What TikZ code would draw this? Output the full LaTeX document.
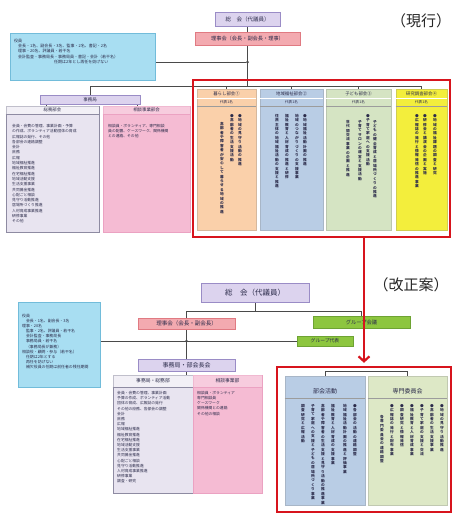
\documentclass[tikz,border=0pt]{standalone}
\usepackage{fontspec}
\setmainfont{Noto Sans CJK JP}
\usetikzlibrary{positioning, arrows.meta, backgrounds}
\XeTeXlinebreaklocale "ja"
\XeTeXlinebreakskip=0pt plus 1pt
\setlength{\parindent}{0pt}

\definecolor{lineGray}{HTML}{4A4A4A}
\definecolor{textGray}{HTML}{2B2B4A}
\definecolor{frameRed}{HTML}{D7141D}
\definecolor{topFill}{HTML}{DCD3EE}
\definecolor{topEdge}{HTML}{9A8CC6}
\definecolor{boardFill}{HTML}{F3AAB0}
\definecolor{boardEdge}{HTML}{E07A82}
\definecolor{infoFill}{HTML}{A8DEF2}
\definecolor{infoEdge}{HTML}{72BCDA}
\definecolor{listFill}{HTML}{E8E4F0}
\definecolor{listEdge}{HTML}{8E8BA2}
\definecolor{pinkFill}{HTML}{F5BBD3}
\definecolor{pinkEdge}{HTML}{EBA2C2}
\definecolor{lifeFill}{HTML}{FAD0AA}
\definecolor{localFill}{HTML}{B9CDE5}
\definecolor{childFill}{HTML}{D5E4C3}
\definecolor{studyFill}{HTML}{F3EE3C}
\definecolor{unitFill}{HTML}{DDE8C6}
\definecolor{groupFill}{HTML}{8DC63F}
\definecolor{groupEdge}{HTML}{6EA333}

\tikzset{
  conn/.style={draw=lineGray, line width=0.8pt},
  plainbox/.style={rectangle, inner sep=0pt, line width=0.6pt, text=textGray},
  topbox/.style={plainbox, fill=topFill, draw=topEdge},
  boardbox/.style={plainbox, fill=boardFill, draw=boardEdge},
  infobox/.style={plainbox, fill=infoFill, draw=infoEdge},
  listbox/.style={plainbox, fill=listFill, draw=listEdge},
  pinkbox/.style={plainbox, fill=pinkFill, draw=pinkEdge},
  groupbox/.style={plainbox, fill=groupFill, draw=groupEdge},
  colbox/.style={plainbox, fill=#1, draw=#1!70!gray},
  redframe/.style={rectangle, inner sep=0pt, draw=frameRed, line width=2.4pt},
  vtxt/.style={anchor=north, inner sep=0pt, text width=4.2pt, align=center, text=textGray, font=\fontsize{3.7}{4.4}\selectfont\bfseries},
  htxt/.style={anchor=north west, inner sep=0pt, align=left, text=textGray, font=\fontsize{3.8}{5.3}\selectfont},
  headtxt/.style={inner sep=0pt, text=textGray, font=\fontsize{4.4}{5}\selectfont},
  joint/.style={circle, fill=lineGray, inner sep=0pt, minimum size=3pt},
}

\begin{document}
\begin{tikzpicture}[x=1pt, y=-1pt]
\useasboundingbox (0,0) rectangle (454,515);

% current organisation
\node[topbox, minimum width=65pt, minimum height=14pt, font=\fontsize{5.5}{6}\selectfont] (assembly1) at (247.5,19) {総　会（代議員）};
\node[boardbox, minimum width=105pt, minimum height=13pt, font=\fontsize{5.2}{6}\selectfont] (board1) at (247.5,39) {理事会（会長・副会長・理事）};
\node[infobox, minimum width=145pt, minimum height=47pt] (officers1) at (82.5,56.5) {};
\node[htxt, font=\fontsize{4}{5.2}\selectfont] (officersText1) at (14,39) {役員\\
　会長・1名、副会長・3名、監事・2名、書記・2名\\
　理事・20名、評議員・若干名\\
　会計監査・事務局長・事務局員・書記・会計（若干名）\\
\hspace{40pt}任期は2年とし再任を妨げない};
\coordinate (hubLevel1) at (0,62);
\node[joint] (hub1) at (board1.south |- hubLevel1) {};
\coordinate (bus1) at (0,86);

\node[topbox, minimum width=100pt, minimum height=9pt, font=\fontsize{4.5}{5}\selectfont] (office1) at (90,99.5) {事務局};
\node[listbox, minimum width=93pt, minimum height=126pt, anchor=north] (general1) at (52.5,106) {};
\node[pinkbox, minimum width=87pt, minimum height=126pt, anchor=north] (consult1) at (146.5,106) {};
\fill[white, opacity=0.45] (general1.north west) rectangle ([yshift=-8pt]general1.north east);
\fill[white, opacity=0.25] (consult1.north west) rectangle ([yshift=-8pt]consult1.north east);
\draw[listEdge, line width=0.4pt] ([yshift=-8pt]general1.north west) -- ([yshift=-8pt]general1.north east);
\draw[pinkEdge, line width=0.4pt] ([yshift=-8pt]consult1.north west) -- ([yshift=-8pt]consult1.north east);
\node[headtxt] (generalHead1) at (52.5,110) {総務部会};
\node[headtxt] (consultHead1) at (146.5,110) {相談事業部会};
\node[htxt] (generalText1) at (12,124) {会員・会費の管理、事業計画・予算\\
の作成、ボランティア活動団体の育成\\
広報誌の発行、その他\\
各部会の連絡調整\\
会計\\
庶務\\
広報\\
地域福祉推進\\
福祉教育推進\\
在宅福祉推進\\
地域活動支援\\
生活支援事業\\
共同募金推進\\
心配ごと相談\\
見守り活動推進\\
居場所づくり推進\\
人材育成事業推進\\
研修事業\\
その他};
\node[htxt] (consultText1) at (108,124) {相談員・ボランティア、専門相談\\
員の配置、ケースワーク、関係機関\\
との連絡、その他};

\node[colbox=lifeFill, minimum width=59pt, minimum height=141pt, anchor=north] (colLife) at (226.5,89) {};
\node[colbox=localFill, minimum width=63pt, minimum height=141pt, anchor=north] (colLocal) at (291.5,89) {};
\node[colbox=childFill, minimum width=65pt, minimum height=141pt, anchor=north] (colChild) at (358.5,89) {};
\node[colbox=studyFill, minimum width=51pt, minimum height=141pt, anchor=north] (colStudy) at (421.5,89) {};
\foreach \c in {colLife,colLocal,colChild,colStudy} {
  \draw[white, line width=0.7pt] ([yshift=-9pt]\c.north west) -- ([yshift=-9pt]\c.north east);
  \draw[lineGray!55, line width=0.5pt] ([yshift=-17pt]\c.north west) -- ([yshift=-17pt]\c.north east);
}
\node[headtxt] (lifeHead) at (226.5,94) {暮らし部会①};
\node[headtxt] (localHead) at (291.5,94) {地域福祉部会②};
\node[headtxt] (childHead) at (358.5,94) {子ども部会③};
\node[headtxt] (studyHead) at (421.5,94) {研究調査部会④};
\node[headtxt, font=\fontsize{3.6}{4}\selectfont] (lifeSub) at (226.5,102) {代表1名};
\node[headtxt, font=\fontsize{3.6}{4}\selectfont] (localSub) at (291.5,102) {代表1名};
\node[headtxt, font=\fontsize{3.6}{4}\selectfont] (childSub) at (358.5,102) {代表1名};
\node[headtxt, font=\fontsize{3.6}{4}\selectfont] (studySub) at (421.5,102) {代表1名};

\node[vtxt] (life1) at (240,114) {●地域の見守り活動の推進};
\node[vtxt] (life2) at (232,114) {●高齢者の生活支援活動};
\node[vtxt] (life3) at (222,122) {高齢者や障害者が安心して暮らせる地域の推進};
\node[vtxt] (local1) at (305,114) {●地域福祉活動計画の推進};
\node[vtxt] (local2) at (297,114) {地域のつながりづくりの支援事業};
\node[vtxt] (local3) at (287,114) {福祉教育と人材育成の推進と研修};
\node[vtxt] (local4) at (277,114) {住民主体の地域福祉活動の支援と推進};
\node[vtxt] (child1) at (375,120) {子どもの健全育成と居場所づくりの推進};
\node[vtxt] (child2) at (368,114) {●子育て家庭への支援活動};
\node[vtxt] (child3) at (360,120) {子育てサロンの運営と支援活動};
\node[vtxt] (child4) at (348,120) {世代間交流事業の企画と推進};
\node[vtxt] (study1) at (435,114) {●地域の福祉課題の調査と研究};
\node[vtxt] (study2) at (425,114) {●研修会と講演会の企画と実施};
\node[vtxt] (study3) at (417,114) {●広報誌の発行と情報発信の推進事業};

\node[redframe, minimum width=257pt, minimum height=157pt] (nowFrame) at (321.5,158.5) {};
\node[font=\fontsize{15}{16}\selectfont, text=black!85] (nowLabel) at (421,21) {（現行）};

% proposed organisation
\node[topbox, minimum width=108pt, minimum height=19pt, font=\fontsize{7.5}{8}\selectfont] (assembly2) at (255,292.5) {総　会（代議員）};
\coordinate (bus2) at (0,311);
\node[boardbox, minimum width=97pt, minimum height=11pt, font=\fontsize{5.5}{6}\selectfont] (board2) at (186.5,323.5) {理事会（会長・副会長）};
\node[groupbox, minimum width=97pt, minimum height=12pt, font=\fontsize{5.3}{6}\selectfont] (groupMeet) at (361.5,322) {グループ会議};
\node[groupbox, minimum width=56pt, minimum height=10pt, font=\fontsize{4.8}{5}\selectfont] (groupRep) at (325,341) {グループ代表};
\node[joint] (hub2) at (board2.south |- groupRep.west) {};
\node[infobox, minimum width=82pt, minimum height=85pt] (officers2) at (59,344.5) {};
\node[htxt, font=\fontsize{3.9}{5.1}\selectfont] (officersText2) at (22,314) {役員\\
　会長・1名、副会長・3名\\
理事・20名\\
　監事・2名、評議員・若干名\\
　会計監査・事務局長\\
　事務局員・若干名\\
　（事務局長が兼務）\\
相談役・顧問・参与（若干名）\\
　任期は2年とする\\
　再任を妨げない\\
　補欠役員の任期は前任者の残任期間};
\node[topbox, minimum width=97pt, minimum height=12pt, font=\fontsize{6}{6}\selectfont] (office2) at (186.5,365) {事務局・部会長会};

\node[listbox, minimum width=80pt, minimum height=118pt, anchor=north] (general2) at (153,375) {};
\node[pinkbox, minimum width=69pt, minimum height=118pt, anchor=north] (consult2) at (227.5,375) {};
\fill[white, opacity=0.45] (general2.north west) rectangle ([yshift=-12pt]general2.north east);
\fill[white, opacity=0.25] (consult2.north west) rectangle ([yshift=-12pt]consult2.north east);
\draw[listEdge, line width=0.4pt] ([yshift=-12pt]general2.north west) -- ([yshift=-12pt]general2.north east);
\draw[pinkEdge, line width=0.4pt] ([yshift=-12pt]consult2.north west) -- ([yshift=-12pt]consult2.north east);
\node[headtxt, font=\fontsize{4.8}{5}\selectfont] (generalHead2) at (153,381) {事務局・総務部};
\node[headtxt, font=\fontsize{4.8}{5}\selectfont] (consultHead2) at (227.5,381) {相談事業部};
\node[htxt, font=\fontsize{3.8}{5.2}\selectfont] (generalText2) at (117,391) {会員・会費の管理、事業計画\\
予算の作成、ボランティア活動\\
団体の育成、広報誌の発行\\
その他の庶務、各部会の調整\\
会計\\
庶務\\
広報\\
地域福祉推進\\
福祉教育推進\\
在宅福祉推進\\
地域活動支援\\
生活支援事業\\
共同募金推進\\
心配ごと相談\\
見守り活動推進\\
人材育成事業推進\\
研修事業\\
調査・研究};
\node[htxt, font=\fontsize{3.8}{5.2}\selectfont] (consultText2) at (197,391) {相談員・ボランティア\\
専門相談員\\
ケースワーク\\
関係機関との連絡\\
その他の相談};

\node[colbox=localFill, minimum width=80pt, minimum height=129pt, anchor=north] (unitWork) at (325,376) {};
\node[colbox=unitFill, minimum width=79pt, minimum height=129pt, anchor=north] (unitCommittee) at (407.5,376) {};
\draw[lineGray!55, line width=0.6pt] ([yshift=-22pt]unitWork.north west) -- ([yshift=-22pt]unitWork.north east);
\draw[lineGray!55, line width=0.6pt] ([yshift=-22pt]unitCommittee.north west) -- ([yshift=-22pt]unitCommittee.north east);
\node[headtxt, font=\fontsize{6}{6}\selectfont] (unitWorkHead) at (325,391) {部会活動};
\node[headtxt, font=\fontsize{6}{6}\selectfont] (unitCommitteeHead) at (407.5,391) {専門委員会};

\node[vtxt] (work1) at (355,404) {●各部会の活動の連絡調整};
\node[vtxt] (work2) at (345,404) {地域福祉活動計画の推進と評価事業};
\node[vtxt] (work3) at (333,404) {福祉教育と人材育成の支援事業};
\node[vtxt] (work4) at (323,404) {高齢者や障害者の生活支援と見守り活動の推進事業};
\node[vtxt] (work5) at (313,404) {子育て家庭への支援と子どもの居場所づくり事業};
\node[vtxt] (work6) at (303,404) {調査研究と広報活動};
\node[vtxt] (committee1) at (442,404) {●地域の見守り活動推進};
\node[vtxt] (committee2) at (432,404) {●高齢者の生活支援事業};
\node[vtxt] (committee3) at (422,404) {●子育て家庭の支援と交流};
\node[vtxt] (committee4) at (412,404) {●福祉教育と人材育成事業};
\node[vtxt] (committee5) at (402,404) {●調査研究と情報発信};
\node[vtxt] (committee6) at (392,404) {●広報誌の発行と配布事業};
\node[vtxt] (committee7) at (382,415) {各専門委員会の連絡調整};

\node[redframe, minimum width=174pt, minimum height=145pt] (nextFrame) at (364,439.5) {};
\node[font=\fontsize{15}{16}\selectfont, text=black!85] (nextLabel) at (411,285) {（改正案）};

\begin{scope}[on background layer]
\draw[conn] (assembly1) -- (board1);
\draw[conn] (board1.south) -- (board1.south |- bus1);
\draw[conn] (officers1.east |- hub1) -- (hub1);
\draw[conn] (office1.north |- bus1) -- (colStudy.north |- bus1);
\foreach \c in {office1,colLife,colLocal,colChild,colStudy}
  \draw[conn] (\c.north |- bus1) -- (\c.north);
\draw[conn] ([xshift=7pt]office1.south west) -- ([xshift=7pt]office1.south west |- general1.north);
\draw[conn] ([xshift=-3pt]office1.south east) -- ([xshift=-3pt]office1.south east |- consult1.north);

\draw[conn] (assembly2.south) -- (assembly2.south |- bus2);
\draw[conn] (board2.north |- bus2) -- (groupMeet.north |- bus2) -- (groupMeet.north);
\draw[conn] (board2.north |- bus2) -- (office2.north);
\draw[conn] (officers2.east |- hub2) -- (groupRep.west);
\draw[conn] (office2.south) -- (office2.south |- general2.north);
\draw[conn] (unitWork.north) -- ++(0,-5) -| (unitCommittee.north);
\end{scope}

\coordinate (arrowX) at (364,0);
\coordinate (arrowEnd) at ([yshift=3pt]nextFrame.north);
\draw[frameRed, line width=2.2pt, -{Straight Barb[length=5pt, width=11pt]}] (nowFrame.south -| arrowX) -- (arrowEnd -| arrowX);

\end{tikzpicture}
\end{document}
